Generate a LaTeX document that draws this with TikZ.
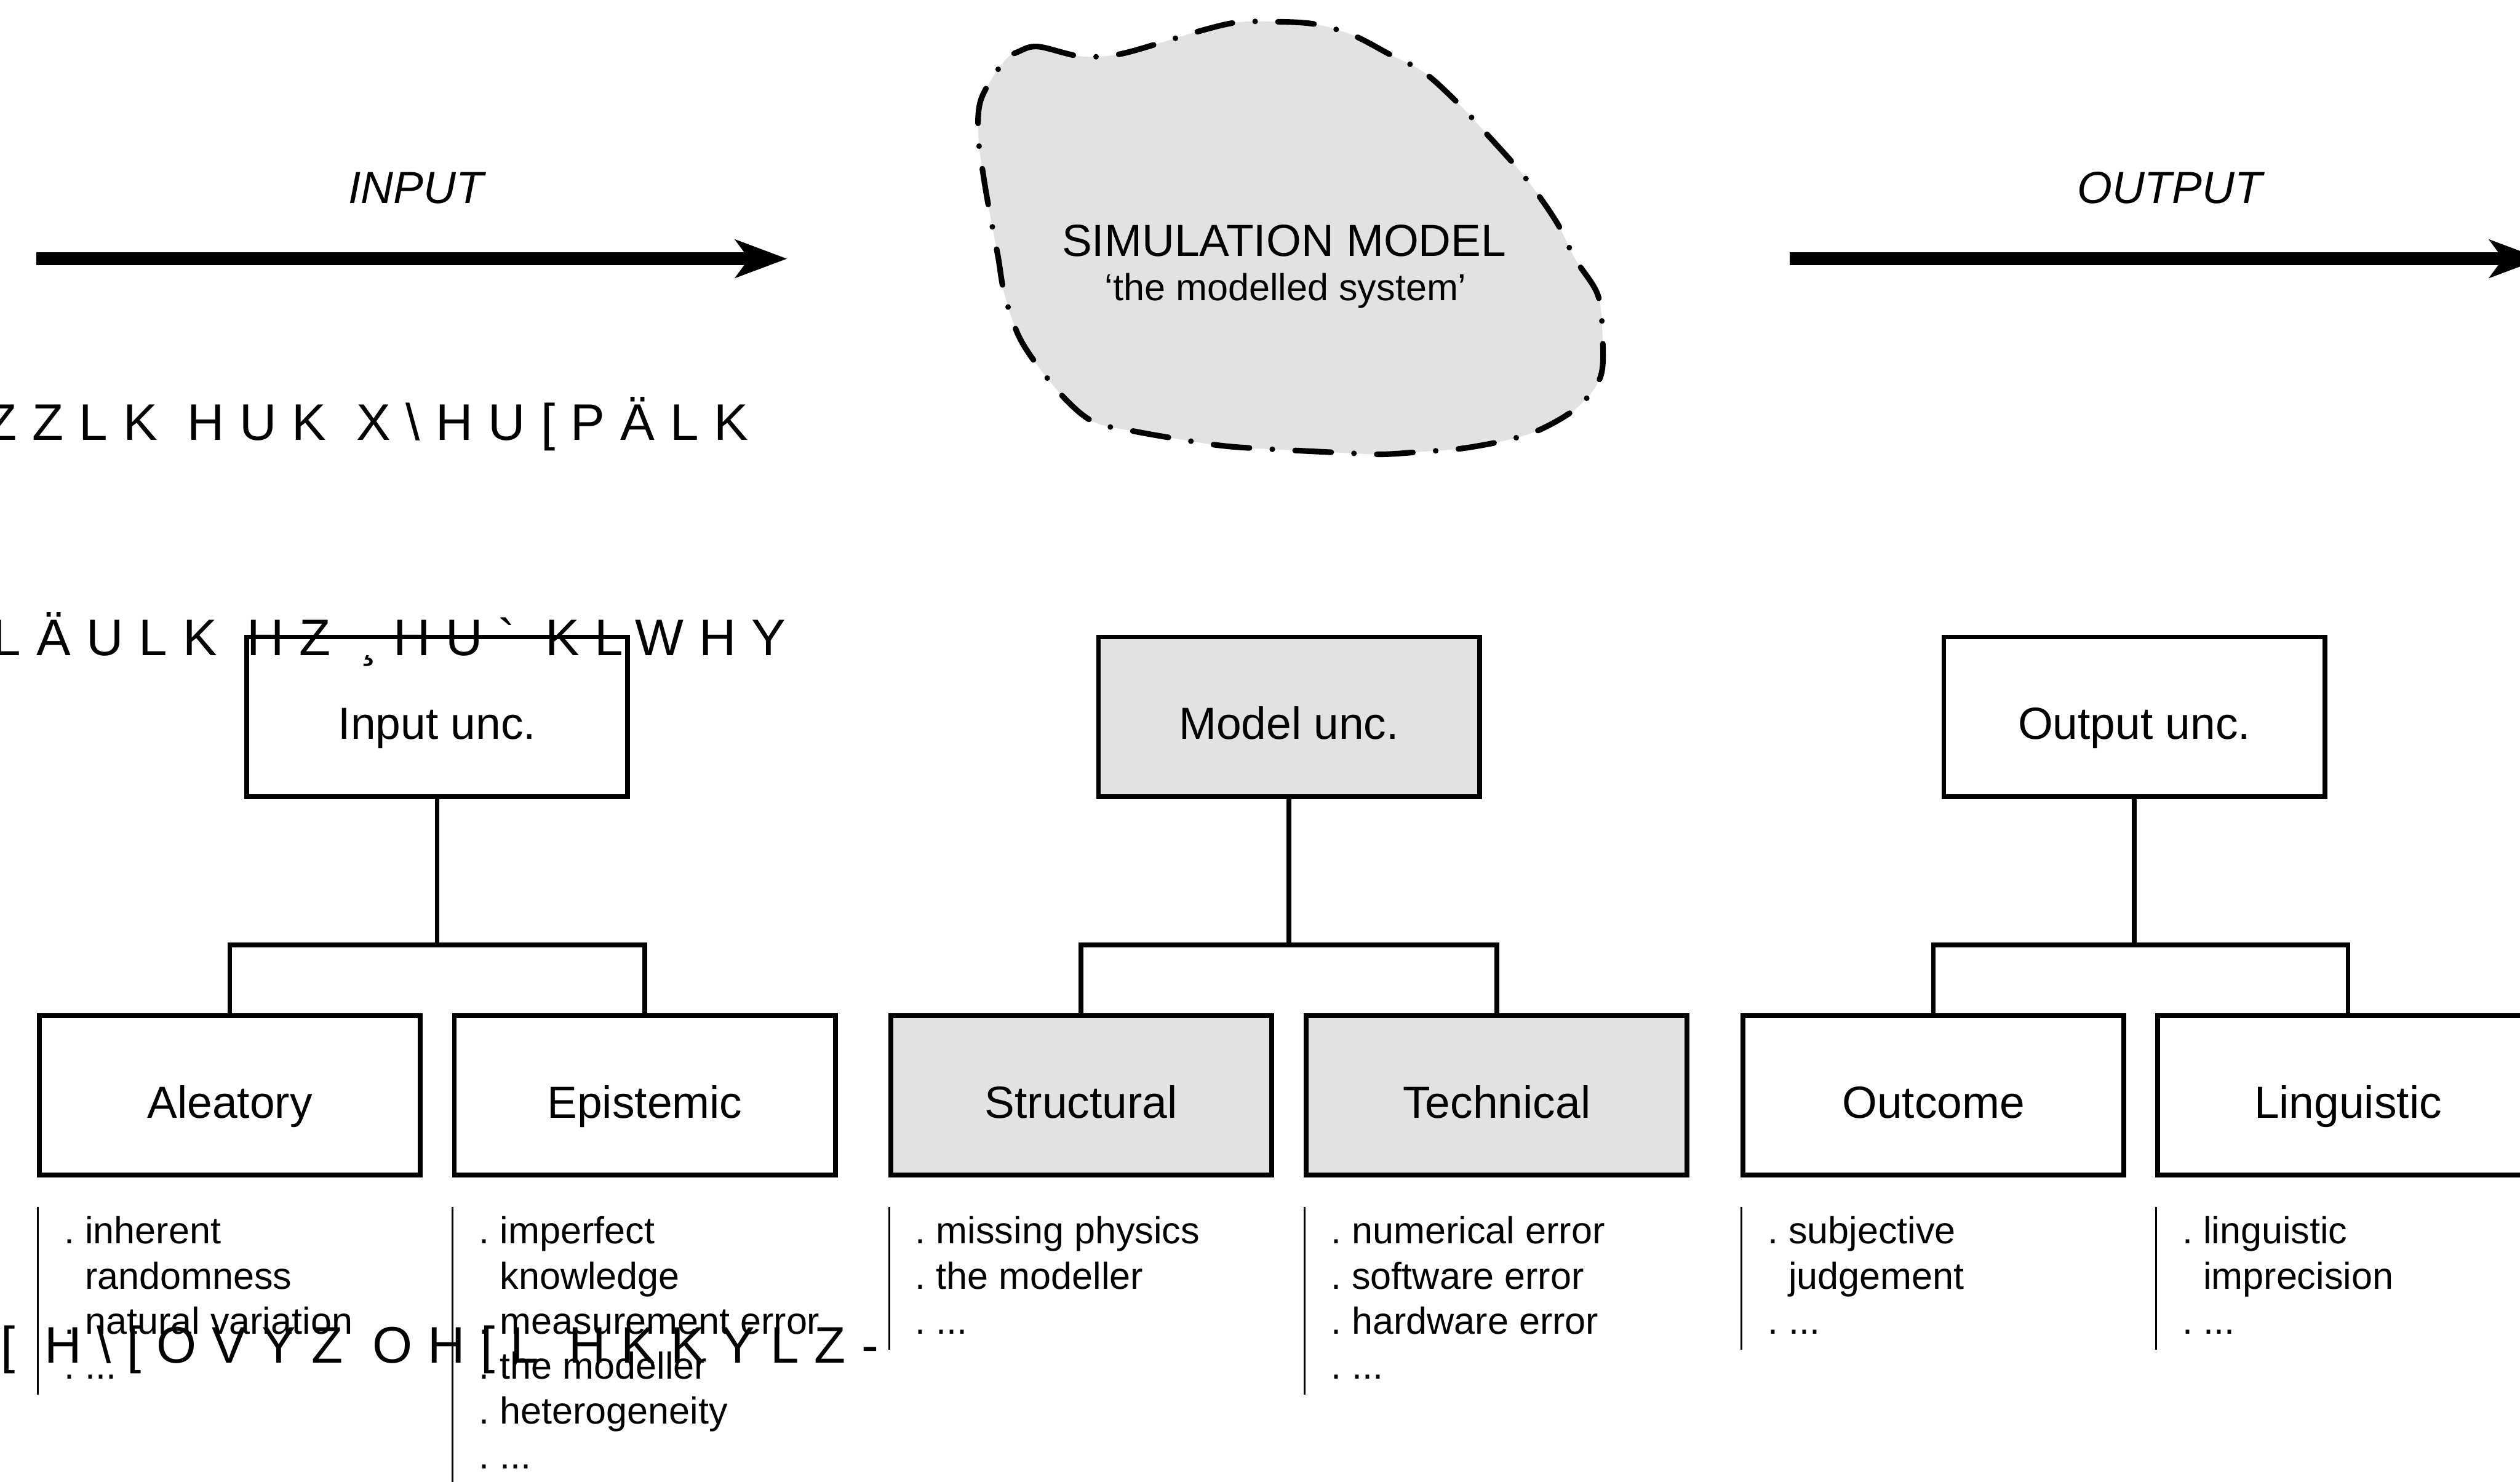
\documentclass[tikz,border=0pt]{standalone}
\usepackage{fontspec}
\setmainfont{Liberation Sans}
\newfontfamily\trackedfont{Liberation Sans}[LetterSpace=30, Ligatures=TeXOff]
\usetikzlibrary{arrows.meta}
\definecolor{shade}{RGB}{226,226,226}

% bulleted column of short lines
\newcommand\blist[1]{\begin{tabular}[t]{@{}l@{}}#1\end{tabular}}
\newcommand\ind{\hphantom{.\ }}

\tikzset{
  ubox/.style={draw, line width=1.5pt, fill=white, minimum width=118.5pt,
    minimum height=49.6pt, inner sep=0pt, text height=14pt, text depth=0pt,
    font=\fontsize{14}{16}\selectfont},
  shaded/.style={fill=shade},
  link/.style={line width=1.5pt},
  flow/.style={line width=4pt,
    -{Stealth[length=16.3pt, width=12.2pt, inset=4.5pt, line width=0pt]}},
  flowlabel/.style={anchor=base, inner sep=0pt, font=\fontsize{14}{16}\selectfont\itshape},
  listtext/.style={anchor=base west, inner sep=0pt, font=\fontsize{11.7}{14}\selectfont},
  rule/.style={line width=0.6pt},
  blobline/.style={line width=1.75pt, line cap=round, line join=round,
    dash pattern=on 11.25pt off 7.1pt on 0pt off 7.1pt},
  spaced/.style={anchor=base west, inner sep=0pt,
    font=\trackedfont\fontsize{16}{19}\selectfont},
}

\begin{document}
\begin{tikzpicture}[x=0.5pt, y=-0.5pt]
\useasboundingbox (0,0) rectangle (1568,922);
\fill[white] (0,0) rectangle (1568,922);
\clip (0,0) rectangle (1568,922);

% input / output flow arrows
\coordinate (inStart) at (22.7,161);
\coordinate (inEnd) at (489.6,161);
\coordinate (outStart) at (1113.6,161);
\coordinate (outEnd) at (1581,161);
\draw[flow] (inStart) -- (inEnd);
\draw[flow] (outStart) -- (outEnd);
\node[flowlabel] (inLabel) at (258.8,126.6) {INPUT};
\node[flowlabel] (outLabel) at (1350,126.6) {OUTPUT};

% the modelled system
\draw[blobline, fill=shade] plot[smooth cycle, tension=0.55] coordinates {
  (634,32) (646,29) (672,35) (695,34) (721,27) (744,20) (769,14) (793,13.5)
  (818,15) (842,22) (865,34) (886,45) (907,64) (921,79) (941,101) (954,117)
  (969,139) (980,161) (994,183) (997,207) (996,234) (982,253) (959,267)
  (937,274) (910,279) (886,281) (860,282.7) (836.5,281.8) (781.5,279)
  (757.5,277) (732,273) (707,268.6) (681.6,263) (664.5,250) (646,228)
  (633.6,208.5) (625,183) (621,159.7) (616,133.4) (612,110) (608.7,84.5)
  (610.5,61.6) (624.5,38.5)};
\node[anchor=base, inner sep=0pt, font=\fontsize{14}{16}\selectfont]
  (simTitle) at (799,159.3) {SIMULATION MODEL};
\node[anchor=base, inner sep=0pt, font=\fontsize{11.7}{14}\selectfont]
  (simSub) at (800,187) {‘the modelled system’};

% uncertainty categories
\node[ubox] (inp) at (272,446) {Input unc.};
\node[ubox, shaded] (mod) at (802,446) {Model unc.};
\node[ubox] (outp) at (1328,446) {Output unc.};

\node[ubox] (ale) at (143,681.7) {Aleatory};
\node[ubox] (epi) at (401.2,681.7) {Epistemic};
\node[ubox, shaded] (str) at (672.7,681.7) {Structural};
\node[ubox, shaded] (tec) at (931.3,681.7) {Technical};
\node[ubox] (outc) at (1203,681.7) {Outcome};
\node[ubox] (lin) at (1461,681.7) {Linguistic};

% tree connectors
\coordinate (jIn) at (272,588);
\coordinate (jMod) at (802,588);
\coordinate (jOut) at (1328,588);
\draw[link] (inp.south) -- (jIn);
\draw[link] (ale.north) -- (ale.north |- jIn) -- (epi.north |- jIn) -- (epi.north);
\draw[link] (mod.south) -- (jMod);
\draw[link] (str.north) -- (str.north |- jMod) -- (tec.north |- jMod) -- (tec.north);
\draw[link] (outp.south) -- (jOut);
\draw[link] (outc.north) -- (outc.north |- jOut) -- (lin.north |- jOut) -- (lin.north);

% example lists
\draw[rule] (23.5,751) -- (23.5,868);
\node[listtext] (aleList) at (39.5,774)
  {\blist{.\ inherent\\\ind randomness\\.\ natural variation\\.\ ...}};
\draw[rule] (281.7,751) -- (281.7,930);
\node[listtext] (epiList) at (297.7,774)
  {\blist{.\ imperfect\\\ind knowledge\\.\ measurement error\\.\ the modeller\\.\ heterogeneity\\.\ ...}};
\draw[rule] (553.2,751) -- (553.2,840);
\node[listtext] (strList) at (569.2,774)
  {\blist{.\ missing physics\\.\ the modeller\\.\ ...}};
\draw[rule] (811.8,751) -- (811.8,868);
\node[listtext] (tecList) at (827.8,774)
  {\blist{.\ numerical error\\.\ software error\\.\ hardware error\\.\ ...}};
\draw[rule] (1083.5,751) -- (1083.5,840);
\node[listtext] (outcList) at (1099.5,774)
  {\blist{.\ subjective\\\ind judgement\\.\ ...}};
\draw[rule] (1341.5,751) -- (1341.5,840);
\node[listtext] (linList) at (1357.5,774)
  {\blist{.\ linguistic\\\ind imprecision\\.\ ...}};

% spaced running text
\node[spaced] (runA) at (-9.5,274) {ZZLK HUK X\textbackslash HU[PÄLK};
\node[spaced] (runB) at (-5,408) {LÄULK HZ ¸HU\symbol{96} KLWHY};
\node[spaced] (runC) at (0,848) {[ H\textbackslash[OVYZ OH[L HKKYLZ-};
\end{tikzpicture}
\end{document}
